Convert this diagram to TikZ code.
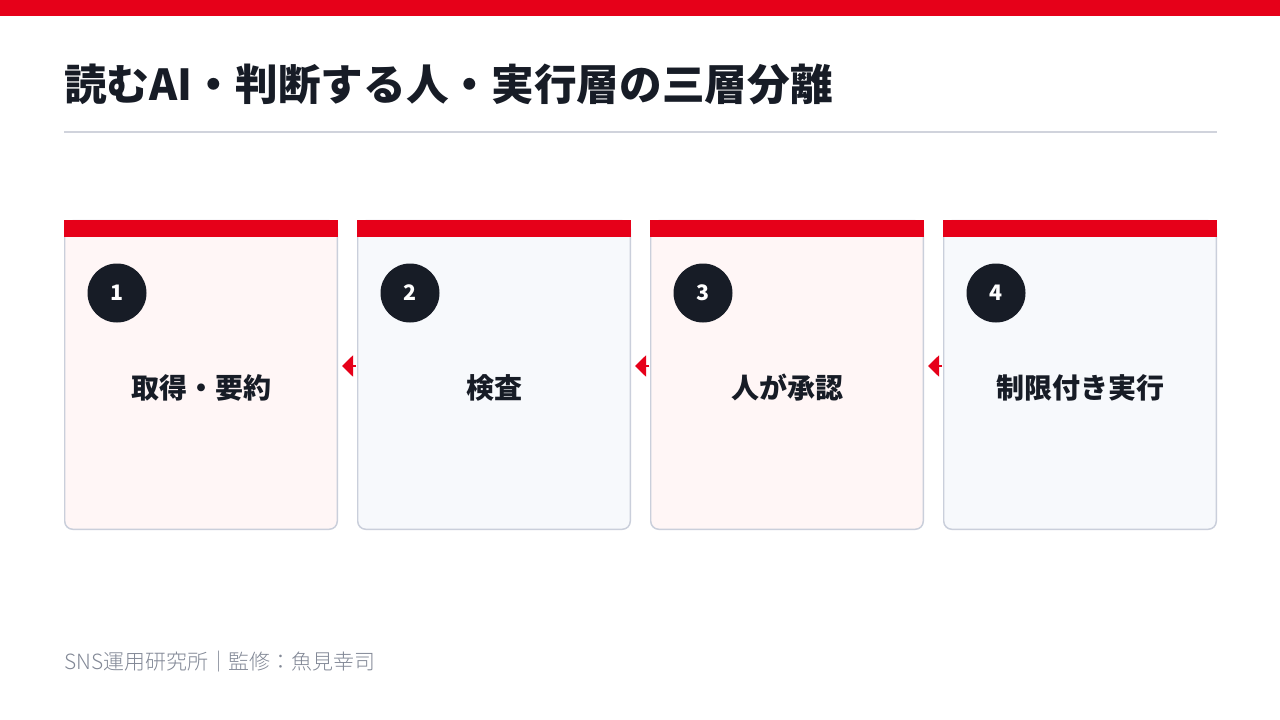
\documentclass[tikz,border=0pt]{standalone}
\usepackage{fontspec}
\setmainfont{Noto Sans CJK JP}
\newfontfamily\lightfont{Noto Sans CJK JP Light}
\usetikzlibrary{arrows.meta}

\definecolor{brandred}{HTML}{E60019}
\definecolor{inkdark}{HTML}{171C26}
\definecolor{rulegray}{HTML}{D0D3DC}
\definecolor{cardline}{HTML}{CACFDB}
\definecolor{cardpink}{HTML}{FFF6F6}
\definecolor{cardblue}{HTML}{F7F9FC}
\definecolor{footgray}{HTML}{828896}

% 1 px of the slide = 0.75pt
\tikzset{
  card/.style={draw=cardline, line width=1.1pt, rounded corners=6pt, minimum width=204.4pt, minimum height=231.4pt, inner sep=0pt},
  cardbar/.style={fill=brandred, draw=none, minimum width=205.5pt, minimum height=12.75pt, inner sep=0pt},
  badge/.style={circle, fill=inkdark, minimum size=44.25pt, inner sep=0pt, text=white, font=\fontsize{16pt}{16pt}\selectfont\bfseries},
  cardlabel/.style={text=inkdark, font=\fontsize{21pt}{21pt}\selectfont\bfseries},
  flow/.style={draw=brandred, line width=1.5pt, -{Triangle[length=8.25pt,width=15.75pt]}, shorten >=3pt, shorten <=0.75pt}
}

\begin{document}
\begin{tikzpicture}[x=0.75pt, y=-0.75pt]
		% Frame and header:
		\useasboundingbox (0,0) rectangle (1280,720);
		\fill[white] (0,0) rectangle (1280,720);
		\fill[brandred] (0,0) rectangle (1280,16);
		\node[anchor=west, inner sep=0pt, text=inkdark, font=\fontsize{32pt}{32pt}\selectfont\bfseries] (title) at (64,84){読むAI・判断する人・実行層の三層分離};
		\draw[rulegray, line width=1.1pt] (64,132) -- (1217,132);
		% Cards:
		\node[card, fill=cardpink] (c1) at (201,375){};
		\node[card, fill=cardblue] (c2) at (494,375){};
		\node[card, fill=cardpink] (c3) at (787,375){};
		\node[card, fill=cardblue] (c4) at (1080,375){};
		\foreach \i/\txt in {1/取得・要約, 2/検査, 3/人が承認, 4/制限付き実行}{
			\node[cardbar, anchor=north] (bar\i) at ([yshift=0.55pt]c\i.north){};
			\node[badge] (b\i) at ([xshift=-63pt, yshift=61.5pt]c\i.center){\i};
			\node[cardlabel] (t\i) at ([yshift=-9.75pt]c\i.center){\txt};
		}
		% Arrows between cards:
		\draw[flow] ([yshift=6.75pt]c2.west) -- ([yshift=6.75pt]c1.east);
		\draw[flow] ([yshift=6.75pt]c3.west) -- ([yshift=6.75pt]c2.east);
		\draw[flow] ([yshift=6.75pt]c4.west) -- ([yshift=6.75pt]c3.east);
		% Footer:
		\node[anchor=west, inner sep=0pt, text=footgray, font=\lightfont\fontsize{15.7pt}{15.7pt}\selectfont] (foot) at (64,662){SNS運用研究所｜監修：魚見幸司};
	\end{tikzpicture}
\end{document}
